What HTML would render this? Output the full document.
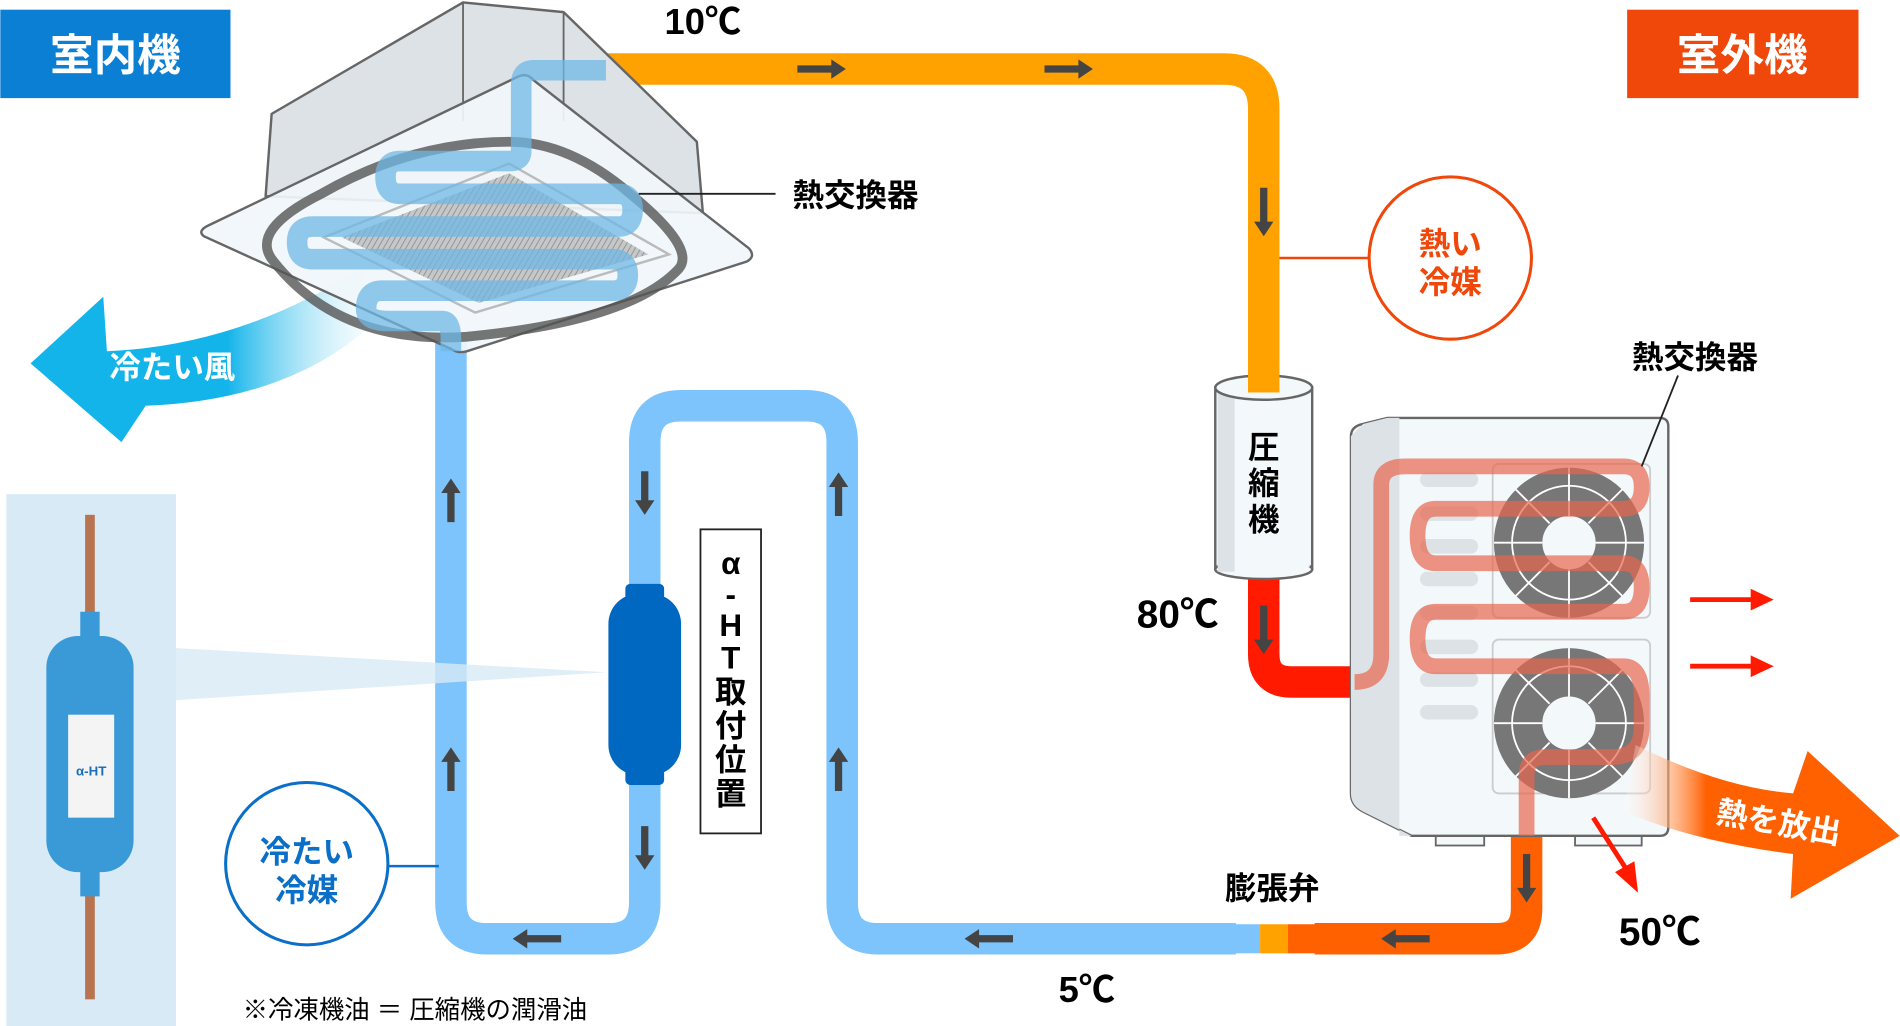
<!DOCTYPE html>
<html><head><meta charset="utf-8"><style>
html,body{margin:0;padding:0;background:#fff;}
svg{display:block;}
text{font-family:"Liberation Sans","Noto Sans CJK JP",sans-serif;font-weight:bold;}
</style></head><body>
<svg width="1900" height="1026" viewBox="0 0 1568 847" xmlns="http://www.w3.org/2000/svg">
<defs>
<linearGradient id="cw" x1="1" y1="0" x2="0" y2="0"><stop offset="0" stop-color="#fff" stop-opacity="0.2"/><stop offset="0.45" stop-color="#12b4ea"/><stop offset="1" stop-color="#12b4ea"/></linearGradient>
<linearGradient id="hw" x1="0" y1="0" x2="1" y2="0"><stop offset="0" stop-color="#fff" stop-opacity="0.2"/><stop offset="0.3" stop-color="#ff6000"/><stop offset="1" stop-color="#ff6000"/></linearGradient>
<pattern id="hatch" width="4" height="4" patternUnits="userSpaceOnUse" patternTransform="rotate(30)"><rect width="4" height="4" fill="#bbb"/><line x1="0" y1="0" x2="0" y2="4" stroke="#777" stroke-width="1.5"/></pattern>
</defs>

<rect x="0" y="8" width="190" height="73" fill="#0a7fd4"/>
<text x="95" y="58" fill="#fff" font-size="36" text-anchor="middle">室内機</text>
<rect x="1343" y="8" width="191" height="73" fill="#f0470a"/>
<text x="1438" y="58" fill="#fff" font-size="36" text-anchor="middle">室外機</text>

<!-- orange hot pipe -->
<path d="M500,57 H1010 Q1043,57 1043,90 V322" fill="none" stroke="#ffa200" stroke-width="26"/>
<text x="580" y="28" font-size="30" text-anchor="middle">10℃</text>

<!-- blue pipe -->
<path d="M1020,775 H725 Q695,775 695,745 V365 Q695,335 665,335 H562 Q532,335 532,365 V745 Q532,775 502,775 H402 Q372,775 372,745 V280" fill="none" stroke="#7cc4fb" stroke-width="26"/>

<!-- cold wind arrow -->
<path d="M320,255 Q250,330 120,335 L100,365 L25,300 L85,245 L88,290 Q200,285 300,220 Z" fill="url(#cw)"/>
<text x="142" y="312" fill="#fff" font-size="26" text-anchor="middle">冷たい風</text>

<!-- indoor unit -->
<polygon points="224,94 382,2 465,10 575,117 580,176 219,162" fill="#dde2e6" stroke="#666" stroke-width="2" stroke-linejoin="round"/>
<line x1="382" y1="2" x2="382" y2="100" stroke="#666" stroke-width="1.5"/>
<line x1="465" y1="10" x2="465" y2="100" stroke="#666" stroke-width="1.5"/>
<path d="M170,187 L428,63 Q435,60 440,66 L618,205 Q624,212 616,216 L385,290 Q378,292 372,288 L168,195 Q163,191 170,187z" fill="#f0f6fa" fill-opacity="0.92" stroke="#666" stroke-width="2"/>
<polygon points="267,196 420,135 552,210 392,258" fill="none" stroke="#bbb" stroke-width="2"/>
<polygon points="282,196 420,143 535,210 395,250" fill="url(#hatch)" opacity="0.8"/>
<path d="M420,117 Q470,117 520,160 Q575,205 560,222 Q520,265 385,278 Q280,285 225,215 Q205,190 265,160 Q340,117 420,117z" fill="none" stroke="#555" stroke-width="8" opacity="0.8"/>
<path d="M500,58 H440 Q430,58 430,70 V125 Q430,133 420,133 H330 Q318,133 318,146 Q318,160 330,160 H510 Q522,160 522,173 Q522,187 510,187 H258 Q245,187 245,200 Q245,214 258,214 H505 Q518,214 518,227 Q518,240 505,240 H315 Q302,240 302,255 Q302,265 320,265 H365 Q372,265 372,280 V290" fill="none" stroke="#6fb8e6" stroke-width="17" opacity="0.75"/>
<line x1="527" y1="160" x2="640" y2="160" stroke="#222" stroke-width="1.5"/>
<text x="706" y="170" font-size="26" text-anchor="middle">熱交換器</text>

<!-- arrows -->
<g fill="#444">
<path d="M372,395 l-8,12 h5 v24 h6 v-24 h5z"/>
<path d="M372,617 l-8,12 h5 v24 h6 v-24 h5z"/>
<path d="M692,390 l-8,12 h5 v24 h6 v-24 h5z"/>
<path d="M692,617 l-8,12 h5 v24 h6 v-24 h5z"/>
<path d="M532,425 l-8,-12 h5 v-24 h6 v24 h5z"/>
<path d="M532,718 l-8,-12 h5 v-24 h6 v24 h5z"/>
<path d="M423,775 l12,-8 v5 h28 v6 h-28 v5z"/>
<path d="M796,775 l12,-8 v5 h28 v6 h-28 v5z"/>
<path d="M698,57 l-12,-8 v5 h-28 v6 h28 v5z"/>
<path d="M902,57 l-12,-8 v5 h-28 v6 h28 v5z"/>
<path d="M1043,195 l-8,-12 h5 v-28 h6 v28 h5z"/>
</g>

<!-- alpha-HT -->
<polygon points="145,535 500,555 145,578" fill="#d8eaf5" opacity="0.8"/>
<rect x="502" y="490" width="60" height="150" rx="25" fill="#0068c0"/>
<rect x="516" y="482" width="32" height="14" rx="4" fill="#0068c0"/>
<rect x="516" y="634" width="32" height="14" rx="4" fill="#0068c0"/>
<rect x="578" y="437" width="50" height="251" fill="#fff" stroke="#222" stroke-width="1.5"/>
<text x="603" y="474" font-size="26" text-anchor="middle">α</text>
<text x="603" y="500" font-size="26" text-anchor="middle">-</text>
<text x="603" y="525" font-size="26" text-anchor="middle">H</text>
<text x="603" y="552" font-size="26" text-anchor="middle">T</text>
<text x="603" y="580" font-size="26" text-anchor="middle">取</text>
<text x="603" y="608" font-size="26" text-anchor="middle">付</text>
<text x="603" y="636" font-size="26" text-anchor="middle">位</text>
<text x="603" y="664" font-size="26" text-anchor="middle">置</text>

<!-- left product panel -->
<rect x="5" y="408" width="140" height="439" fill="#d8eaf5"/>
<rect x="70" y="425" width="8" height="90" fill="#b87350"/>
<rect x="70" y="730" width="8" height="95" fill="#b87350"/>
<rect x="66" y="505" width="16" height="35" fill="#3a9ad8"/>
<rect x="66" y="700" width="16" height="40" fill="#3a9ad8"/>
<rect x="38" y="525" width="72" height="195" rx="26" fill="#3a9ad8"/>
<rect x="56" y="590" width="38" height="85" fill="#f4f4f4"/>
<text x="75" y="640" font-size="11" fill="#1a6fb8" text-anchor="middle">α-HT</text>

<!-- cold refrigerant circle -->
<line x1="320" y1="715" x2="362" y2="715" stroke="#0a6fc8" stroke-width="2"/>
<circle cx="253" cy="713" r="67" fill="#fff" stroke="#0a6fc8" stroke-width="2.5"/>
<text x="253" y="712" font-size="26" fill="#0a6fc8" text-anchor="middle">冷たい</text>
<text x="253" y="744" font-size="26" fill="#0a6fc8" text-anchor="middle">冷媒</text>

<text x="200" y="841" font-size="21" style="font-weight:normal">※冷凍機油 ＝ 圧縮機の潤滑油</text>
<text x="897" y="827" font-size="30" text-anchor="middle">5℃</text>

<!-- orange return pipe -->
<path d="M1260,690 V750 Q1260,775 1235,775 H1085" fill="none" stroke="#ff6000" stroke-width="26"/>
<!-- expansion valve -->
<rect x="995" y="768" width="25" height="14" fill="#7cc4fb"/>
<rect x="1015" y="763" width="25" height="24" fill="#7cc4fb"/>
<rect x="1040" y="763" width="23" height="24" fill="#ffa200"/>
<rect x="1063" y="763" width="23" height="24" fill="#ff6000"/>
<rect x="1085" y="768" width="20" height="14" fill="#ff6000"/>
<text x="1050" y="742" font-size="26" text-anchor="middle">膨張弁</text>
<g fill="#444">
<path d="M1140,775 l12,-8 v5 h28 v6 h-28 v5z"/>
<path d="M1260,745 l-8,-12 h5 v-28 h6 v28 h5z"/>
</g>

<!-- red pipe -->
<path d="M1043,475 V540 Q1043,563 1066,563 H1118" fill="none" stroke="#ff1a00" stroke-width="26"/>
<path d="M1043,540 l-8,-12 h5 v-28 h6 v28 h5z" fill="#444"/>
<text x="972" y="518" font-size="32" text-anchor="middle">80℃</text>

<!-- compressor -->
<rect x="1003" y="320" width="80" height="150" fill="#f3f8fb" stroke="#666" stroke-width="2"/>
<ellipse cx="1043" cy="470" rx="40" ry="8" fill="#f3f8fb" stroke="#666" stroke-width="2"/>
<rect x="1005" y="320" width="76" height="148" fill="#f3f8fb"/>
<rect x="1005" y="322" width="14" height="150" fill="#dde2e6"/>
<ellipse cx="1043" cy="320" rx="40" ry="10" fill="#f3f8fb" stroke="#666" stroke-width="2"/>
<rect x="1030" y="300" width="26" height="24" fill="#ffa200"/>
<text x="1043" y="378" font-size="26" text-anchor="middle">圧</text>
<text x="1043" y="408" font-size="26" text-anchor="middle">縮</text>
<text x="1043" y="438" font-size="26" text-anchor="middle">機</text>

<!-- hot refrigerant circle -->
<line x1="1056" y1="213" x2="1130" y2="213" stroke="#f0470a" stroke-width="2"/>
<circle cx="1197" cy="213" r="67" fill="#fff" stroke="#f0470a" stroke-width="2.5"/>
<text x="1197" y="210" font-size="26" fill="#f0470a" text-anchor="middle">熱い</text>
<text x="1197" y="242" font-size="26" fill="#f0470a" text-anchor="middle">冷媒</text>

<!-- outdoor unit -->
<rect x="1185" y="680" width="40" height="18" fill="#f3f8fb" stroke="#666" stroke-width="1.5"/>
<rect x="1300" y="680" width="55" height="18" fill="#f3f8fb" stroke="#666" stroke-width="1.5"/>
<path d="M1125,350 L1145,345 H1370 Q1377,345 1377,352 V683 Q1377,690 1370,690 H1165 L1125,670 Q1115,665 1115,655 V360 Q1115,352 1125,350z" fill="#f3f8fb" stroke="#666" stroke-width="2"/>
<path d="M1125,350 L1145,345 H1155 V690 H1165 L1125,670 Q1115,665 1115,655 V360z" fill="#dde2e6"/>
<g fill="#dde2e6">
<rect x="1172" y="390" width="48" height="12" rx="6"/><rect x="1172" y="418" width="48" height="12" rx="6"/><rect x="1172" y="445" width="48" height="12" rx="6"/><rect x="1172" y="472" width="48" height="12" rx="6"/><rect x="1172" y="500" width="48" height="12" rx="6"/><rect x="1172" y="528" width="48" height="12" rx="6"/><rect x="1172" y="555" width="48" height="12" rx="6"/><rect x="1172" y="582" width="48" height="12" rx="6"/>
</g>
<rect x="1232" y="383" width="130" height="127" rx="5" fill="none" stroke="#ccc" stroke-width="1.5"/>
<rect x="1232" y="528" width="130" height="127" rx="5" fill="none" stroke="#ccc" stroke-width="1.5"/>
<g>
<circle cx="1295" cy="448" r="42" fill="none" stroke="#777" stroke-width="40"/>
<circle cx="1295" cy="597" r="42" fill="none" stroke="#777" stroke-width="40"/>
<g fill="none" stroke="#fff" stroke-width="1.5">
<circle cx="1295" cy="448" r="47"/><circle cx="1295" cy="597" r="47"/>
<line x1="1295" y1="386" x2="1295" y2="426"/><line x1="1295" y1="470" x2="1295" y2="510"/><line x1="1233" y1="448" x2="1273" y2="448"/><line x1="1317" y1="448" x2="1357" y2="448"/>
<line x1="1251" y1="404" x2="1279" y2="432"/><line x1="1311" y1="464" x2="1339" y2="492"/><line x1="1339" y1="404" x2="1311" y2="432"/><line x1="1279" y1="464" x2="1251" y2="492"/>
<line x1="1295" y1="535" x2="1295" y2="575"/><line x1="1295" y1="619" x2="1295" y2="659"/><line x1="1233" y1="597" x2="1273" y2="597"/><line x1="1317" y1="597" x2="1357" y2="597"/>
<line x1="1251" y1="553" x2="1279" y2="581"/><line x1="1311" y1="613" x2="1339" y2="641"/><line x1="1339" y1="553" x2="1311" y2="581"/><line x1="1279" y1="613" x2="1251" y2="641"/>
</g>
</g>
<path d="M1118,563 Q1140,563 1140,540 V400 Q1140,385 1160,385 H1340 Q1355,385 1355,402 Q1355,420 1340,420 H1185 Q1170,420 1170,442 Q1170,465 1185,465 H1340 Q1355,465 1355,485 Q1355,505 1340,505 H1185 Q1170,505 1170,527 Q1170,550 1185,550 H1340 Q1355,550 1355,575 V600 Q1355,625 1330,625 H1275 Q1260,625 1260,640 V690" fill="none" stroke="#e8664f" stroke-width="13" opacity="0.7"/>
<line x1="1385" y1="310" x2="1355" y2="385" stroke="#222" stroke-width="1.5"/>
<text x="1399" y="304" font-size="26" text-anchor="middle">熱交換器</text>

<g stroke="#ff1a00" stroke-width="4" fill="#ff1a00">
<line x1="1395" y1="495" x2="1448" y2="495"/><path d="M1445,486 L1464,495 L1445,504z" stroke="none"/>
<line x1="1395" y1="550" x2="1448" y2="550"/><path d="M1445,541 L1464,550 L1445,559z" stroke="none"/>
<line x1="1315" y1="675" x2="1342" y2="717"/><path d="M1333,720 L1352,737 L1349,711z" stroke="none"/>
</g>

<path d="M1350,615 Q1420,650 1480,655 L1492,620 L1568,690 L1478,742 L1480,705 Q1400,695 1340,670z" fill="url(#hw)"/>
<text x="1468" y="688" font-size="26" fill="#fff" text-anchor="middle" transform="rotate(10 1468 680)">熱を放出</text>
<text x="1370" y="780" font-size="32" text-anchor="middle">50℃</text>
</svg>
</body></html>
